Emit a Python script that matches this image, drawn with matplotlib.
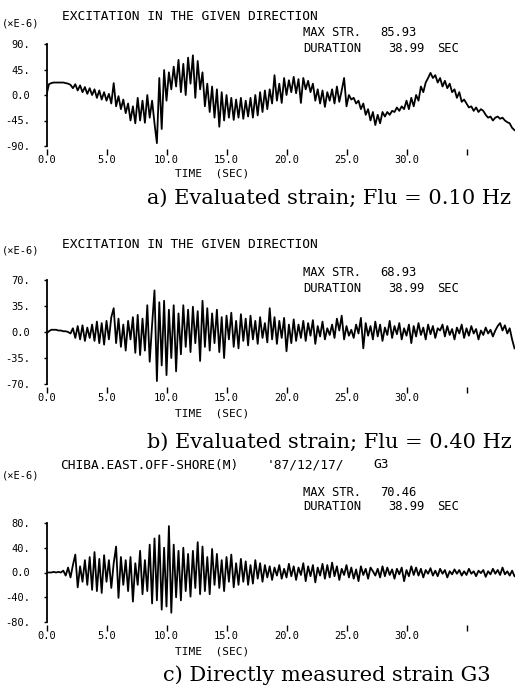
import numpy as np
import matplotlib.pyplot as plt

# strain records, sampled every 0.2 s from 0.0 to 39.0 s (x1e-6)
dt = 0.2

strain_a = [
    0, 19, 21, 22, 22, 22, 22, 22, 21, 20,
    18, 12, 19, 8, 17, 5, 14, 2, 12, 0,
    10, -5, 8, -8, 5, -10, 2, -15, 21, -20,
    -2, -25, -8, -32, -15, -45, -20, -50, -5, -45,
    -10, -49, 0, -40, -10, -50, -85, 30, -60, 44,
    -10, 40, 10, 50, 15, 62, 5, 55, 0, 66,
    20, 70, -5, 60, 10, 40, -20, 20, -30, 15,
    -40, 10, -56, 5, -45, 0, -40, -5, -44, -8,
    -40, -5, -42, -10, -38, -5, -40, 0, -36, 5,
    -30, 8, -25, 10, -15, 35, -10, 20, -14, 30,
    0, 26, 5, 32, 3, 28, -14, 30, 10, 25,
    5, 20, -10, 10, -15, 8, -21, 5, -10, 10,
    -15, 15, -12, 8, 30, -20, 0, -8, -5, -15,
    -10, -25, -15, -35, -25, -45, -30, -53, -35, -50,
    -30, -38, -30, -35, -28, -30, -22, -28, -20, -25,
    -10, -25, -5, -20, 0, -10, 15, 5, 22, 30,
    39, 30, 35, 22, 30, 15, 25, 12, 20, 5,
    10, -5, 5, -12, -8, -15, -22, -20, -28, -22,
    -30, -25, -28, -35, -40, -38, -45, -40, -38, -42,
    -40, -45, -48, -50, -58, -62,
]

strain_b = [
    -2, 1, 3, 3, 3, 2, 2, 1, 1, 0,
    -2, 5, -8, 8, -10, 9, -12, 6, -8, 10,
    -12, 14, -15, 12, -17, 15, -10, 20, 32, -15,
    18, -20, 10, -25, 15, -10, 20, -28, 23, -31,
    18, -25, 36, -40, 10, 56, -66, 40, -45, 42,
    -58, 30, -35, 36, -53, 25, -30, 36, -20, 30,
    -27, 34, -15, 28, -39, 42, -20, 32, -25, 25,
    -15, 30, -27, 20, -35, 22, -10, 26, -20, 15,
    -22, 24, -12, 18, -18, 22, -10, 15, -16, 20,
    -8, 12, -14, 32, -10, 20, -16, 15, -8, 19,
    -26, 10, -15, 17, -12, 10, -8, 15, -12, 12,
    -5, 16, -16, 8, -6, 14, -10, 5, -4, 10,
    -8, 18, 2, 22, -10, 8, -5, 3, -8, 10,
    -2, 19, -22, 12, -5, 8, -10, 14, -6, 10,
    -12, 6, -4, 15, -8, 8, -3, 12, -10, 5,
    -5, 10, -15, 8, -6, 12, -4, 6, -10, 10,
    -3, 8, -8, 5, 2, 10, -6, 8, -4, 4,
    -10, 6, -2, 10, -8, 5, -5, 8, -2, 4,
    -10, 2, -4, 6, -2, 3, -6, 2, 8, 12,
    2, 9, -2, 5, -10, -22,
]

strain_c = [
    0, 0, 0, 1, 0, 1, 0, 3, -5, 8,
    -8, 12, 29, -24, 10, -15, 20, -20, 25, -28,
    33, -30, 22, -33, 28, -15, 20, -25, 15, 42,
    -41, 25, -20, 20, -30, 25, -47, 15, -20, 35,
    -35, 20, -30, 45, -50, 55, -45, 60, -60, 40,
    -55, 75, -65, 45, -40, 35, -45, 40, -30, 30,
    -39, 35, -25, 49, -35, 42, -30, 25, -35, 38,
    -20, 30, -25, 20, -30, 25, -15, 29, -24, 15,
    -20, 22, -15, 18, -20, 12, -18, 20, -10, 15,
    -15, 12, -8, 10, -12, 8, -5, 12, -10, 6,
    -8, 14, -6, 10, -12, 8, -4, 15, -14, 10,
    -6, 12, -16, 8, -5, 14, -10, 12, -8, 16,
    -6, 10, -12, 6, -4, 12, -8, 8, -10, 5,
    -14, 10, -4, 6, -10, 8, 2, -5, 6, -8,
    10, -6, 8, -4, 5, -10, 6, -3, 8, -14,
    4, -6, 10, -4, 8, -5, 6, -8, 4, -2,
    7, -5, 3, -6, 6, -2, 4, -8, 2, -3,
    5, -2, 4, -5, 2, -4, 6, -2, 2, -6,
    3, -1, 4, -7, 2, -3, 6, -2, 4, -4,
    8, -3, 2, -5, 3, -6,
]

yticks_a = [-90, -45, 0, 45, 90]
yticks_b = [-70, -35, 0, 35, 70]
yticks_c = [-80, -40, 0, 40, 80]
xticks = [0, 5, 10, 15, 20, 25, 30, 35]
xtick_labels = ['0.0', '5.0', '10.0', '15.0', '20.0', '25.0', '30.0', '']

max_str = ['85.93', '68.93', '70.46']
duration = '38.99'
captions = ['a) Evaluated strain; Flu = 0.10 Hz',
            'b) Evaluated strain; Flu = 0.40 Hz',
            'c) Directly measured strain G3']

W, H = 516, 687
fig = plt.figure(figsize=(W / 100, H / 100), dpi=100)
mono = 'DejaVu Sans Mono'


def ptext(x, y, s, size=8.5, ha='left', family=mono, va='center', **kw):
    fig.text(x / W, 1 - y / H, s, ha=ha, va=va, fontsize=size,
             family=family, **kw)


def panel(data, yt, top, bottom):
    left, right = 46.5, 514.5
    ax = fig.add_axes([left / W, 1 - bottom / H, (right - left) / W, (bottom - top) / H])
    t = np.arange(len(data)) * dt
    ax.plot(t, data, color='black', lw=1.3)
    ax.set_xlim(0, 39)
    ax.set_ylim(yt[0], yt[-1])
    for s in ['top', 'right', 'bottom']:
        ax.spines[s].set_visible(False)
    ax.spines['left'].set_linewidth(1.3)
    ax.spines['bottom'].set_position(('outward', 2))
    ax.set_xticks(xticks)
    ax.set_xticklabels(xtick_labels, family=mono, fontsize=7.5)
    ax.tick_params(axis='x', direction='out', length=4, width=1.0, pad=0.5)
    ax.set_yticks(yt)
    ax.set_yticklabels([('0.0' if v == 0 else f'{v}.') for v in yt], family=mono, fontsize=7.5)
    ax.tick_params(axis='y', direction='out', length=2, width=1.0, pad=10)
    ax.patch.set_alpha(0)
    return ax


def header(title_parts, y_title, y_unit, y_max, y_dur, max_value):
    for x, s in title_parts:
        ptext(x, y_title, s, 9.3)
    ptext(2, y_unit, '(×E-6)', 7.5)
    ptext(303, y_max, 'MAX STR.', 8.7)
    ptext(380, y_max, max_value, 8.7)
    ptext(303, y_dur, 'DURATION', 8.7)
    ptext(388, y_dur, duration, 8.7)
    ptext(437, y_dur, 'SEC', 8.7)


# panel a
panel(strain_a, yticks_a, 44, 146)
header([(62, 'EXCITATION IN THE GIVEN DIRECTION')], 16, 24, 33, 48, max_str[0])
ptext(212, 173, 'TIME  (SEC)', 8, ha='center')
ptext(329, 204, captions[0], 15, ha='center', family='DejaVu Serif', va='baseline')

# panel b
panel(strain_b, yticks_b, 280, 384)
header([(62, 'EXCITATION IN THE GIVEN DIRECTION')], 245, 251, 273, 288, max_str[1])
ptext(212, 413, 'TIME  (SEC)', 8, ha='center')
ptext(329, 448, captions[1], 15, ha='center', family='DejaVu Serif', va='baseline')

# panel c
panel(strain_c, yticks_c, 523, 622)
header([(60, 'CHIBA.EAST.OFF-SHORE(M)'), (267, "'87/12/17/"), (373, 'G3')],
       465, 475, 493, 506, max_str[2])
ptext(212, 652, 'TIME  (SEC)', 8, ha='center')
ptext(327, 681, captions[2], 15, ha='center', family='DejaVu Serif', va='baseline')

fig.savefig('out.png', dpi=100)
